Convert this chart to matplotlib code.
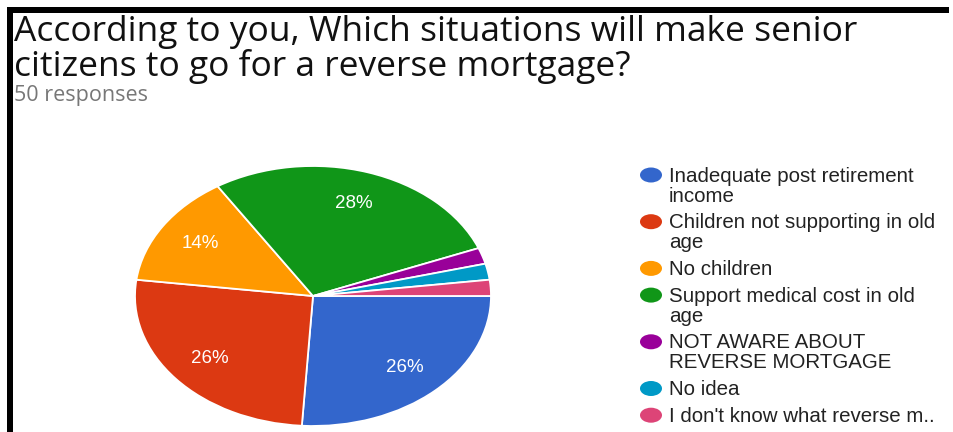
import matplotlib.pyplot as plt
from matplotlib.patches import Ellipse, Rectangle

W, H = 954, 432

# survey answers (50 responses)
labels = [
    "Inadequate post retirement\nincome",
    "Children not supporting in old\nage",
    "No children",
    "Support medical cost in old\nage",
    "NOT AWARE ABOUT\nREVERSE MORTGAGE",
    "No idea",
    "I don't know what reverse m..",
]
counts = [13, 13, 7, 14, 1, 1, 1]
colors = ["#3366cc", "#dc3912", "#ff9900", "#109618", "#990099", "#0099c6", "#dd4477"]

title_lines = ["According to you, Which situations will make senior",
               "citizens to go for a reverse mortgage?"]
subtitle = "50 responses"

fig = plt.figure(figsize=(W / 100, H / 100), dpi=100)

# overlay axes in pixel coordinates for text, legend and frame
bg = fig.add_axes([0, 0, 1, 1])
bg.set_xlim(0, W)
bg.set_ylim(H, 0)
bg.axis("off")

# black frame on top and left
bg.add_patch(Rectangle((7, 6.5), W - 12, 6, color="black", lw=0))
bg.add_patch(Rectangle((7.3, 6.5), 6, H, color="black", lw=0))

bg.text(14, 41, title_lines[0], fontsize=25.5, family="Open Sans", color="#111111", va="baseline")
bg.text(14, 76.5, title_lines[1], fontsize=25.5, family="Open Sans", color="#111111", va="baseline")
bg.text(14, 101, subtitle, fontsize=15.5, family="Open Sans", color="#777777", va="baseline")

# legend
y = 175
for lab, col in zip(labels, colors):
    bg.add_patch(Ellipse((651, y), 22, 15, color=col, lw=0))
    for k, line in enumerate(lab.split("\n")):
        bg.text(669, y + 6.5 + 20 * k, line, fontsize=14.8, family="Liberation Sans",
                color="#222222", va="baseline")
    y += 26.7 + 20 * lab.count("\n")

# stretched pie
ax = fig.add_axes([135 / W, 1 - 426 / H, 356 / W, 260 / H])


def pct_label(p):
    return f"{p:.0f}%" if p >= 5 else ""


wedges, texts, autotexts = ax.pie(
    counts, colors=colors, startangle=0, counterclock=False,
    autopct=pct_label, pctdistance=0.75,
    wedgeprops=dict(edgecolor="white", linewidth=1.3),
    textprops=dict(color="white", fontsize=13.5, family="Liberation Sans"),
)
for w in wedges:
    w.set_clip_on(False)
ax.set_aspect("auto")
ax.set_xlim(-1, 1)
ax.set_ylim(-1, 1)

fig.savefig("out.png", dpi=100)
